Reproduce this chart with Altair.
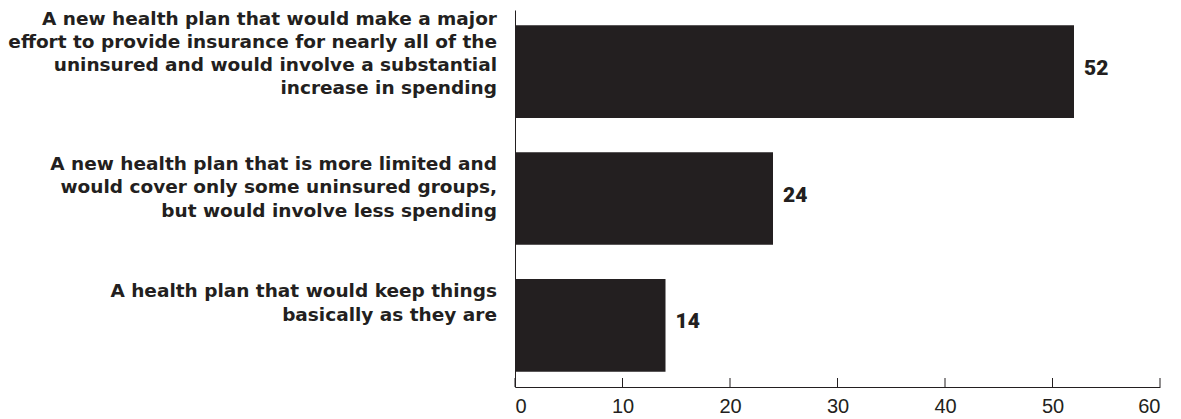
import altair as alt
import pandas as pd

labels = [
    "A new health plan that would make a major|effort to provide insurance for nearly all of the|uninsured and would involve a substantial|increase in spending",
    "A new health plan that is more limited and|would cover only some uninsured groups,|but would involve less spending",
    "A health plan that would keep things|basically as they are",
]
values = [52, 24, 14]
ticks = [0, 10, 20, 30, 40, 50, 60]

# layout (styles), not data
LABEL_DY = [-53, -34.5, -34]
INK = "#231f20"
W, H = 645, 377

df = pd.DataFrame({"label": labels, "value": values})
tdf = pd.DataFrame({"t": ticks})

yenc = alt.Y("label:N", sort=labels,
             scale=alt.Scale(paddingInner=0.27, paddingOuter=0.12),
             axis=alt.Axis(labels=False, ticks=False, title=None, domainColor=INK, domainWidth=1))
xenc = alt.X("value:Q", scale=alt.Scale(domain=[0, 60], nice=False),
             axis=alt.Axis(values=ticks, ticks=False, grid=False, title=None,
                           labelFontSize=20, labelPadding=9, labelColor=INK,
                           labelFont="Liberation Sans",
                           domainColor=INK, domainWidth=1))

bars = alt.Chart(df).mark_bar(color=INK).encode(x=xenc, y=yenc)

vals = alt.Chart(df).mark_text(align="left", baseline="middle", dx=10, dy=-3, font="Roboto",
                               fontWeight=900, fontSize=21, color=INK).encode(
    x="value:Q", y=alt.Y("label:N", sort=labels), text="value:Q")

tk = alt.Chart(tdf).mark_rule(color=INK, strokeWidth=1).encode(
    x=alt.X("t:Q"), y=alt.value(H), y2=alt.value(H - 9))

layers = [bars, tk, vals]
for i, lab in enumerate(labels):
    layers.append(
        alt.Chart(df).transform_filter(alt.datum.label == lab).mark_text(
            align="right", baseline="middle", lineBreak="|", dy=LABEL_DY[i],
            font="DejaVu Sans", fontWeight="bold", fontSize=18.5,
            lineHeight=23.3, color=INK).encode(
            x=alt.value(-18), y=alt.Y("label:N", sort=labels), text="label:N")
    )

chart = alt.layer(*layers).properties(
    width=W, height=H,
    autosize=alt.AutoSizeParams(type="none"),
    padding={"left": 507, "top": 2, "right": 5, "bottom": 30},
).configure_view(strokeWidth=0)

chart.save("out.html", embed_options={"renderer": "svg", "actions": False})
